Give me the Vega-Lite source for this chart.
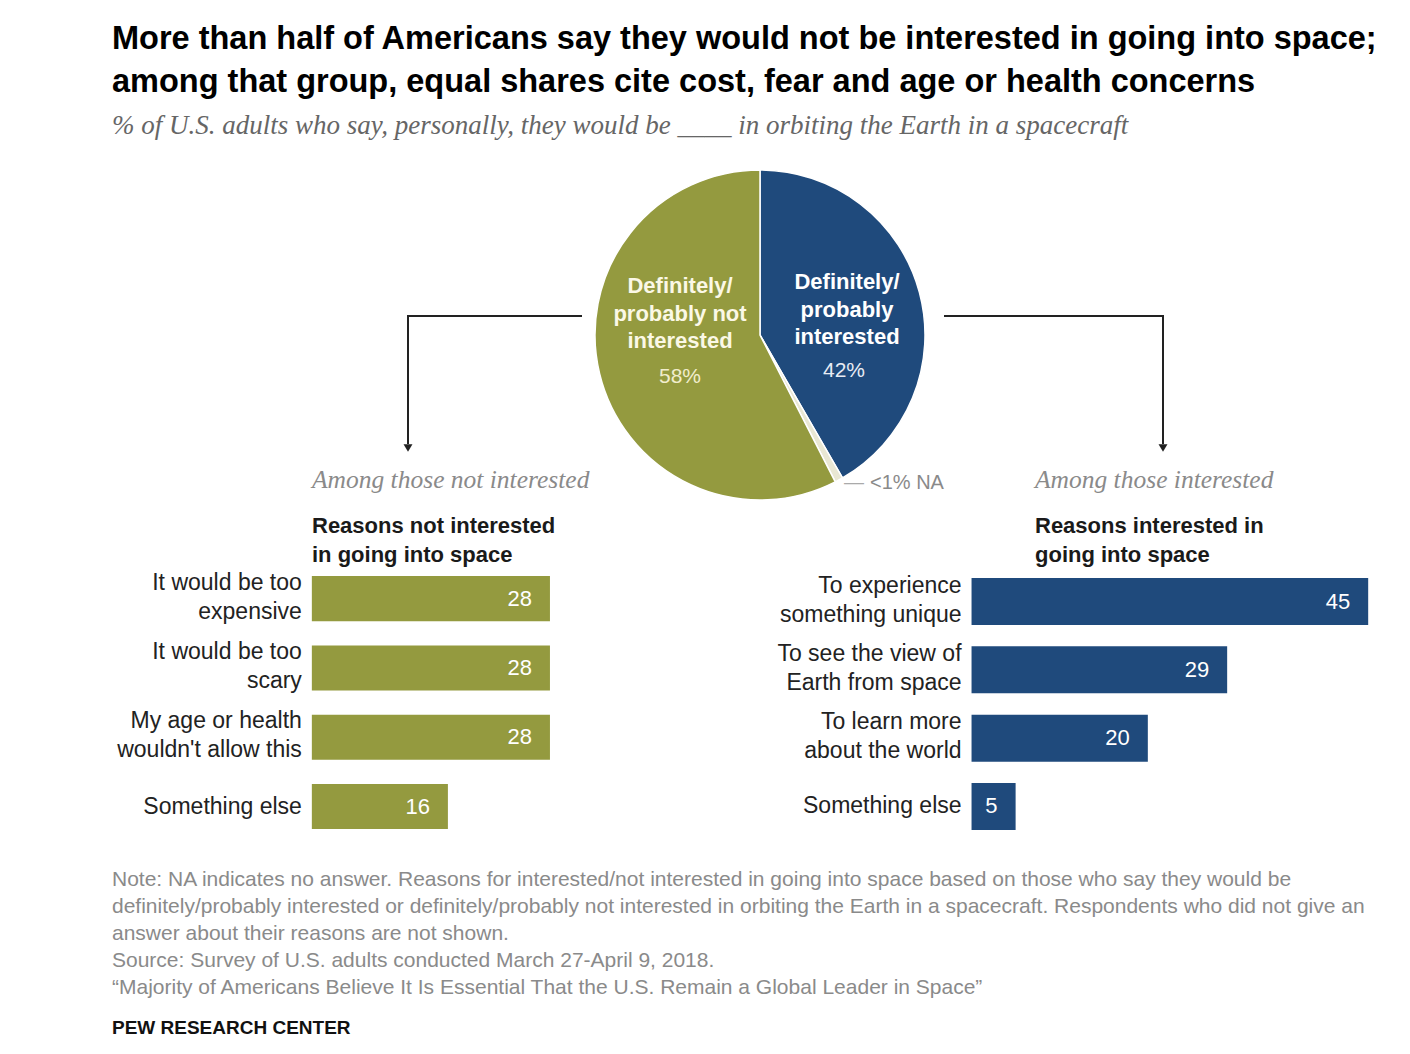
{
  "$schema": "https://vega.github.io/schema/vega-lite/v6.json",
  "background": "white",
  "padding": {"left": 112, "top": 22, "right": 0, "bottom": 0},
  "title": {
    "text": ["More than half of Americans say they would not be interested in going into space;", "among that group, equal shares cite cost, fear and age or health concerns"],
    "subtitle": "% of U.S. adults who say, personally, they would be ____ in orbiting the Earth in a spacecraft",
    "anchor": "start",
    "frame": "bounds",
    "font": "Liberation Sans",
    "fontSize": 32.5,
    "fontWeight": "bold",
    "lineHeight": 43,
    "color": "#000000",
    "subtitleFont": "Liberation Serif",
    "subtitleFontStyle": "italic",
    "subtitleFontSize": 27,
    "subtitleColor": "#666666",
    "subtitlePadding": 15,
    "offset": 28
  },
  "spacing": 30,
  "vconcat": [
    {
      "spacing": -36,
      "vconcat": [
        {
          "width": 1296,
          "height": 336,
          "data": {"values": [
            {"group": "interested", "share": 42, "label": "Definitely/|probably|interested", "pct": "42%"},
            {"group": "na", "share": 0.8, "label": "NA", "pct": "<1% NA"},
            {"group": "not interested", "share": 58, "label": "Definitely/|probably not|interested", "pct": "58%"}
          ]},
          "layer": [
            {
              "mark": {"type": "arc", "outerRadius": 165, "stroke": "white", "strokeWidth": 1.5},
              "encoding": {
                "theta": {"field": "share", "type": "quantitative", "stack": true},
                "color": {"field": "group", "type": "nominal", "legend": null,
                  "scale": {"domain": ["interested", "na", "not interested"], "range": ["#1f4a7c", "#e9e7d3", "#949a3f"]}},
                "order": {"field": "group", "type": "ordinal", "sort": "ascending"}
              }
            },
            {
              "transform": [{"filter": "datum.group == 'not interested'"}],
              "mark": {"type": "text", "dx": -80, "dy": -49, "align": "center", "baseline": "middle", "lineBreak": "|", "lineHeight": 27.5, "font": "Liberation Sans", "fontSize": 22, "fontWeight": "bold", "color": "#fbf8e6"},
              "encoding": {"text": {"field": "label"}}
            },
            {
              "transform": [{"filter": "datum.group == 'not interested'"}],
              "mark": {"type": "text", "dx": -80, "dy": 42, "align": "center", "baseline": "middle", "font": "Liberation Sans", "fontSize": 21, "color": "#f1edcc"},
              "encoding": {"text": {"field": "pct"}}
            },
            {
              "transform": [{"filter": "datum.group == 'interested'"}],
              "mark": {"type": "text", "dx": 87, "dy": -53, "align": "center", "baseline": "middle", "lineBreak": "|", "lineHeight": 27.5, "font": "Liberation Sans", "fontSize": 22, "fontWeight": "bold", "color": "#ffffff"},
              "encoding": {"text": {"field": "label"}}
            },
            {
              "transform": [{"filter": "datum.group == 'interested'"}],
              "mark": {"type": "text", "dx": 84, "dy": 36, "align": "center", "baseline": "middle", "font": "Liberation Sans", "fontSize": 21, "color": "#e8ecf4"},
              "encoding": {"text": {"field": "pct"}}
            },
            {
              "transform": [{"filter": "datum.group == 'na'"}],
              "mark": {"type": "text", "dx": 94, "dy": 148, "align": "center", "baseline": "middle", "font": "Liberation Sans", "fontSize": 20, "color": "#aaaaaa"},
              "encoding": {"text": {"value": "—"}}
            },
            {
              "transform": [{"filter": "datum.group == 'na'"}],
              "mark": {"type": "text", "dx": 110, "dy": 148, "align": "left", "baseline": "middle", "font": "Liberation Sans", "fontSize": 20, "color": "#8a8a8a"},
              "encoding": {"text": {"field": "pct"}}
            },
            {
              "data": {"values": [{}]},
              "mark": {"type": "rule", "color": "#222222", "strokeWidth": 2},
              "encoding": {"x": {"value": 470}, "x2": {"value": 295}, "y": {"value": 149}}
            },
            {
              "data": {"values": [{}]},
              "mark": {"type": "rule", "color": "#222222", "strokeWidth": 2},
              "encoding": {"x": {"value": 296}, "y": {"value": 148}, "y2": {"value": 277}}
            },
            {
              "data": {"values": [{}]},
              "mark": {"type": "point", "shape": "triangle-down", "filled": true, "color": "#222222", "opacity": 1, "size": 80},
              "encoding": {"x": {"value": 296}, "y": {"value": 281}}
            },
            {
              "data": {"values": [{}]},
              "mark": {"type": "rule", "color": "#222222", "strokeWidth": 2},
              "encoding": {"x": {"value": 832}, "x2": {"value": 1052}, "y": {"value": 149}}
            },
            {
              "data": {"values": [{}]},
              "mark": {"type": "rule", "color": "#222222", "strokeWidth": 2},
              "encoding": {"x": {"value": 1051}, "y": {"value": 148}, "y2": {"value": 277}}
            },
            {
              "data": {"values": [{}]},
              "mark": {"type": "point", "shape": "triangle-down", "filled": true, "color": "#222222", "opacity": 1, "size": 80},
              "encoding": {"x": {"value": 1051}, "y": {"value": 281}}
            }
          ]
        },
        {
          "spacing": 108,
          "hconcat": [
            {
              "width": 540,
              "height": 276,
              "title": {
                "text": "Among those not interested",
                "subtitle": ["Reasons not interested", "in going into space"],
                "anchor": "start", "frame": "group", "dx": 200, "offset": -3,
                "font": "Liberation Serif", "fontStyle": "italic", "fontWeight": "normal", "fontSize": 25.5, "color": "#8a8a8a",
                "subtitleFont": "Liberation Sans", "subtitleFontWeight": "bold", "subtitleFontSize": 22, "subtitleColor": "#1a1a1a",
                "subtitleLineHeight": 29, "subtitlePadding": 23
              },
              "data": {"values": [
                {"reason": "It would be too|expensive", "value": 28},
                {"reason": "It would be too|scary", "value": 28},
                {"reason": "My age or health|wouldn't allow this", "value": 28},
                {"reason": "Something else", "value": 16}
              ]},
              "encoding": {
                "y": {"field": "reason", "type": "nominal", "sort": null, "axis": null, "scale": {"paddingInner": 0.35, "paddingOuter": 0.166, "align": 0.57}}
              },
              "layer": [
                {
                  "mark": {"type": "bar", "color": "#949a3f"},
                  "encoding": {
                    "x": {"field": "value", "type": "quantitative", "axis": null, "scale": {"domain": [-23.5, 40], "nice": false, "zero": false}},
                    "x2": {"datum": 0}
                  }
                },
                {
                  "mark": {"type": "text", "align": "right", "baseline": "middle", "dx": -18, "color": "#ffffff", "font": "Liberation Sans", "fontSize": 22},
                  "encoding": {"x": {"field": "value", "type": "quantitative"}, "text": {"field": "value", "type": "quantitative"}}
                },
                {
                  "transform": [{"filter": "indexof(datum.reason, '|') >= 0"}],
                  "mark": {"type": "text", "align": "right", "baseline": "middle", "dx": -10, "dy": -16, "lineBreak": "|", "lineHeight": 29, "color": "#222222", "font": "Liberation Sans", "fontSize": 23},
                  "encoding": {"x": {"datum": 0}, "text": {"field": "reason"}}
                },
                {
                  "transform": [{"filter": "indexof(datum.reason, '|') < 0"}],
                  "mark": {"type": "text", "align": "right", "baseline": "middle", "dx": -10, "color": "#222222", "font": "Liberation Sans", "fontSize": 23},
                  "encoding": {"x": {"datum": 0}, "text": {"field": "reason"}}
                }
              ]
            },
            {
              "width": 617,
              "height": 276,
              "title": {
                "text": "Among those interested",
                "subtitle": ["Reasons interested  in", "going into space"],
                "anchor": "start", "frame": "group", "dx": 275, "offset": -3,
                "font": "Liberation Serif", "fontStyle": "italic", "fontWeight": "normal", "fontSize": 25.5, "color": "#8a8a8a",
                "subtitleFont": "Liberation Sans", "subtitleFontWeight": "bold", "subtitleFontSize": 22, "subtitleColor": "#1a1a1a",
                "subtitleLineHeight": 29, "subtitlePadding": 23
              },
              "data": {"values": [
                {"reason": "To experience|something unique", "value": 45},
                {"reason": "To see the view of|Earth from space", "value": 29},
                {"reason": "To learn more|about the world", "value": 20},
                {"reason": "Something else", "value": 5}
              ]},
              "encoding": {
                "y": {"field": "reason", "type": "nominal", "sort": null, "axis": null, "scale": {"paddingInner": 0.312, "paddingOuter": 0.176, "align": 0.625}}
              },
              "layer": [
                {
                  "mark": {"type": "bar", "color": "#1f4a7c"},
                  "encoding": {
                    "x": {"field": "value", "type": "quantitative", "axis": null, "scale": {"domain": [-24, 46], "nice": false, "zero": false}},
                    "x2": {"datum": 0}
                  }
                },
                {
                  "mark": {"type": "text", "align": "right", "baseline": "middle", "dx": -18, "color": "#ffffff", "font": "Liberation Sans", "fontSize": 22},
                  "encoding": {"x": {"field": "value", "type": "quantitative"}, "text": {"field": "value", "type": "quantitative"}}
                },
                {
                  "transform": [{"filter": "indexof(datum.reason, '|') >= 0"}],
                  "mark": {"type": "text", "align": "right", "baseline": "middle", "dx": -10, "dy": -16, "lineBreak": "|", "lineHeight": 29, "color": "#222222", "font": "Liberation Sans", "fontSize": 23},
                  "encoding": {"x": {"datum": 0}, "text": {"field": "reason"}}
                },
                {
                  "transform": [{"filter": "indexof(datum.reason, '|') < 0"}],
                  "mark": {"type": "text", "align": "right", "baseline": "middle", "dx": -10, "color": "#222222", "font": "Liberation Sans", "fontSize": 23},
                  "encoding": {"x": {"datum": 0}, "text": {"field": "reason"}}
                }
              ]
            }
          ]
        }
      ]
    },
    {
      "width": 1280,
      "height": 135,
      "data": {"values": [
        {"line": 1, "text": "Note: NA indicates no answer. Reasons for interested/not interested in going into space based on those who say they would be"},
        {"line": 2, "text": "definitely/probably interested or definitely/probably not interested in orbiting the Earth in a spacecraft. Respondents who did not give an"},
        {"line": 3, "text": "answer about their reasons are not shown."},
        {"line": 4, "text": "Source: Survey of U.S. adults conducted March 27-April 9, 2018."},
        {"line": 5, "text": "“Majority of Americans Believe It Is Essential That the U.S. Remain a Global Leader in Space”"},
        {"line": 6, "text": "PEW RESEARCH CENTER"}
      ]},
      "encoding": {
        "y": {"field": "line", "type": "ordinal", "axis": null, "scale": {"type": "point", "padding": 0}},
        "x": {"value": 0},
        "text": {"field": "text"}
      },
      "layer": [
        {
          "transform": [{"filter": "datum.line <= 5"}],
          "mark": {"type": "text", "align": "left", "baseline": "middle", "font": "Liberation Sans", "fontSize": 21, "color": "#8a8a8a"}
        },
        {
          "transform": [{"filter": "datum.line == 6"}],
          "mark": {"type": "text", "align": "left", "baseline": "middle", "dy": 13, "font": "Liberation Sans", "fontSize": 19, "fontWeight": "bold", "color": "#111111"}
        }
      ]
    }
  ],
  "config": {
    "view": {"stroke": null},
    "font": "Liberation Sans"
  }
}
